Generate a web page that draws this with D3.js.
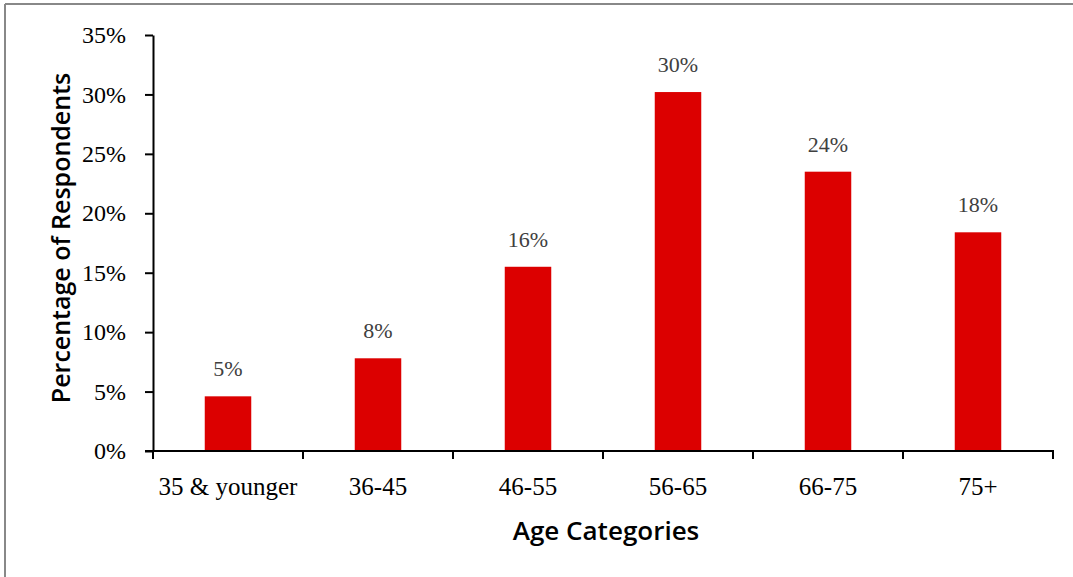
<!DOCTYPE html>
<html>
<head>
<meta charset="utf-8">
<script src="https://cdn.jsdelivr.net/npm/d3@7"></script>
<style>
  html, body { margin: 0; padding: 0; background: #fff; }
  svg { display: block; }
</style>
</head>
<body>
<svg id="chart" width="1073" height="577"></svg>
<script>
// Share of respondents by age group (percent)
const categories = ["35 & younger", "36-45", "46-55", "56-65", "66-75", "75+"];
const values = [4.6, 7.8, 15.5, 30.2, 23.5, 18.4];
const yTicks = [0, 5, 10, 15, 20, 25, 30, 35];

const svg = d3.select("#chart");
const W = 1073, H = 577;
const margin = { left: 153, top: 35 };
const plotW = 900, plotH = 416;

// frame (top and left edges visible)
svg.append("line").attr("x1", 5).attr("x2", W).attr("y1", 4).attr("y2", 4)
  .attr("stroke", "#888").attr("stroke-width", 2);
svg.append("line").attr("x1", 5).attr("x2", 5).attr("y1", 4).attr("y2", H)
  .attr("stroke", "#888").attr("stroke-width", 2);

const g = svg.append("g").attr("transform", `translate(${margin.left},${margin.top})`);

const x = d3.scaleBand().domain(categories).range([0, plotW]).paddingInner(0.69).paddingOuter(0.345);
const y = d3.scaleLinear().domain([0, 35]).range([plotH, 0]);

const serif = "'Liberation Serif', 'Times New Roman', serif";
const sans = "'Open Sans', Lato, sans-serif";

// bars
g.selectAll("rect.bar").data(values).join("rect")
  .attr("class", "bar")
  .attr("x", (d, i) => x(categories[i]))
  .attr("width", x.bandwidth())
  .attr("y", d => y(d))
  .attr("height", d => plotH - y(d))
  .attr("fill", "#dc0000");

// value labels
g.selectAll("text.val").data(values).join("text")
  .attr("class", "val")
  .attr("x", (d, i) => x(categories[i]) + x.bandwidth() / 2)
  .attr("y", d => y(d) - 20)
  .attr("text-anchor", "middle")
  .attr("font-family", serif)
  .attr("font-size", 22)
  .attr("fill", "#404040")
  .text(d => Math.round(d) + "%");

// y axis
const yAxis = d3.axisLeft(y).tickValues(yTicks).tickFormat(d => d + "%").tickSize(8).tickSizeOuter(0);
const yg = g.append("g").call(yAxis);
yg.attr("font-size", null).attr("font-family", null);
yg.select(".domain").attr("stroke", "#000").attr("stroke-width", 2);
yg.selectAll(".tick line").attr("stroke", "#000").attr("stroke-width", 2);
yg.selectAll(".tick text")
  .attr("font-family", serif).attr("font-size", 24).attr("fill", "#000")
  .attr("x", -27).attr("dy", "0.32em");

// x axis with ticks at category boundaries
const xg = g.append("g").attr("transform", `translate(0,${plotH})`);
xg.append("line").attr("x1", -8).attr("x2", plotW).attr("y1", 0).attr("y2", 0)
  .attr("stroke", "#000").attr("stroke-width", 2);
const step = x.step();
const boundaries = d3.range(categories.length + 1).map(i => x(categories[0]) - x.paddingOuter() * step + i * step);
xg.selectAll("line.tk").data(boundaries).join("line")
  .attr("class", "tk")
  .attr("x1", d => d).attr("x2", d => d)
  .attr("y1", -1).attr("y2", 8)
  .attr("stroke", "#000").attr("stroke-width", 2);
xg.selectAll("text.cat").data(categories).join("text")
  .attr("class", "cat")
  .attr("x", d => x(d) + x.bandwidth() / 2)
  .attr("y", 44)
  .attr("text-anchor", "middle")
  .attr("font-family", serif).attr("font-size", 25).attr("fill", "#000")
  .text(d => d);

// axis titles
svg.append("text")
  .attr("x", 606).attr("y", 540)
  .attr("text-anchor", "middle")
  .attr("font-family", sans).attr("font-weight", 600).attr("font-size", 26)
  .attr("fill", "#000")
  .text("Age Categories");

svg.append("text")
  .attr("transform", "translate(70,238) rotate(-90)")
  .attr("text-anchor", "middle")
  .attr("font-family", sans).attr("font-weight", 600).attr("font-size", 25)
  .attr("fill", "#000")
  .text("Percentage of Respondents");
</script>
</body>
</html>
